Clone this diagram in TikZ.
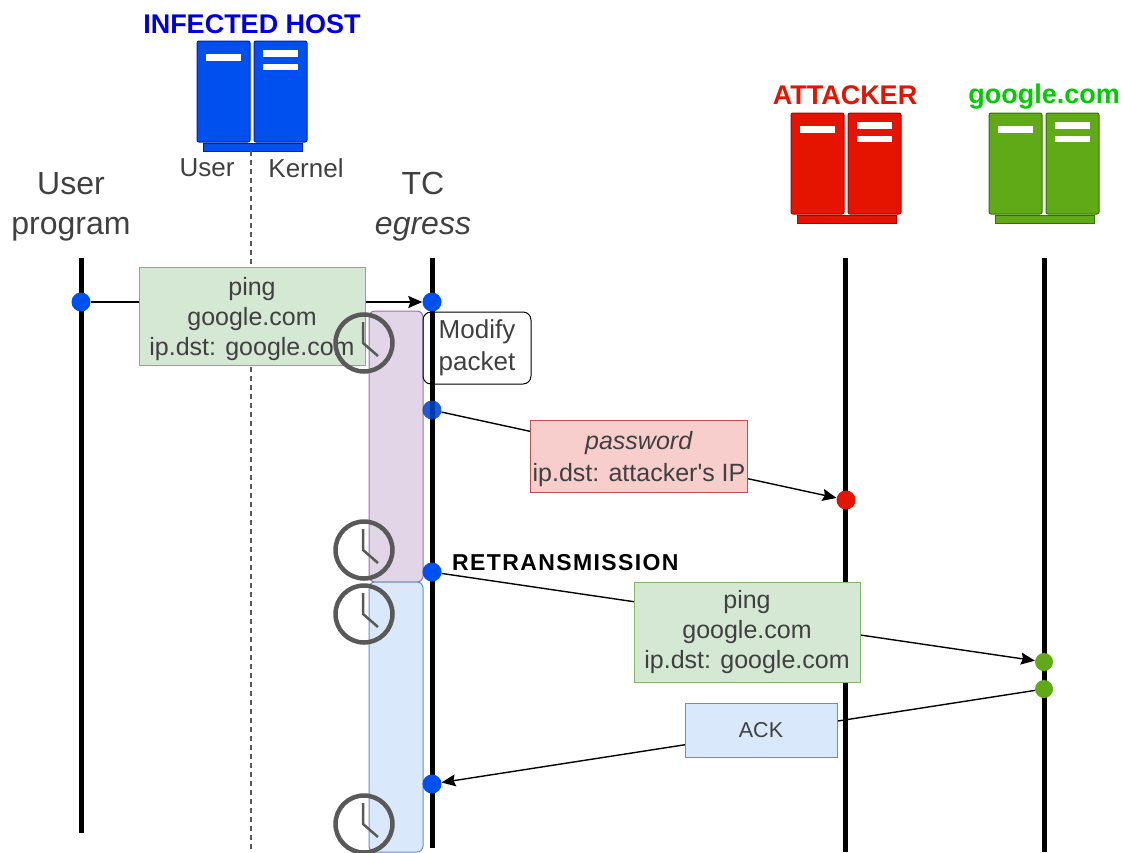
\documentclass[tikz,border=0pt]{standalone}
\usepackage{fontspec}
\setmainfont{Liberation Sans}
\usetikzlibrary{arrows.meta}

\definecolor{hostfill}{HTML}{0050EF}
\definecolor{hostline}{HTML}{001DBC}
\definecolor{attackfill}{HTML}{E51400}
\definecolor{attackline}{HTML}{B20000}
\definecolor{googlefill}{HTML}{60A917}
\definecolor{googleline}{HTML}{2D7600}
\definecolor{labelgray}{HTML}{404040}
\definecolor{clockgray}{HTML}{595959}
\definecolor{greenfill}{HTML}{D5E8D4}
\definecolor{greenline}{HTML}{82B366}
\definecolor{redfill}{HTML}{F8CECC}
\definecolor{redline}{HTML}{B85450}
\definecolor{bluefill}{HTML}{DAE8FC}
\definecolor{blueline}{HTML}{6C8EBF}
\definecolor{purplefill}{HTML}{E1D5E7}
\definecolor{purpleline}{HTML}{9673A6}

\tikzset{
    lifeline/.style={line width=5pt, black},
    splitline/.style={line width=1.5pt, clockgray, dash pattern=on 5pt off 4pt},
    dot/.style={circle, inner sep=0pt, minimum size=19pt, fill=#1},
    msg/.style={line width=1.4pt, black, -{Stealth[length=14pt, width=12pt, inset=2pt]}},
    msgbox/.style={draw=#1line, fill=#1fill, line width=1pt, align=center, inner sep=0pt, text=labelgray,
        font=\fontsize{25}{30}\selectfont},
    title/.style={align=center, text=labelgray, font=\fontsize{32}{40}\selectfont},
    small/.style={text=labelgray, font=\fontsize{26}{28}\selectfont},
    heading/.style={font=\bfseries\fontsize{#1}{28}\selectfont},
    window/.style={line width=1pt, rounded corners=6pt},
    pics/server/.style 2 args={code={
        \draw[fill=#1, draw=#2, line width=1pt, rounded corners=2pt] (-55, 0) rectangle (-2, 101);
        \draw[fill=#1, draw=#2, line width=1pt, rounded corners=2pt] (2, 0) rectangle (55, 101);
        \draw[fill=#1, draw=#2, line width=1pt] (-49, 102) rectangle (50, 110);
        \fill[white] (-46, 13) rectangle (-11, 20);
        \fill[white] (11, 9) rectangle (46, 16);
        \fill[white] (11, 23) rectangle (46, 29);
    }},
    pics/clock/.style={code={
        \draw[clockgray, line width=4.5pt] (0, 0) circle (28.5);
        \draw[clockgray, line width=2.5pt] (-1, -21) -- (-1, 0) -- (14, 13);
    }},
}

\begin{document}
\begin{tikzpicture}[x=1pt, y=-1pt]
\useasboundingbox (0, 0) rectangle (1123, 852);

\node[heading=27, text=blue!87!black] (hosttitle) at (252, 24) {INFECTED HOST};
\pic at (252, 41) {server={hostfill}{hostline}};
\node[small] (userlabel) at (207, 168) {User};
\node[small] (kernellabel) at (306, 168) {Kernel};

\node[heading=27, text=attackfill] (attackertitle) at (845, 95) {ATTACKER};
\pic at (846, 113) {server={attackfill}{attackline}};

\node[heading=27, text=green!80!black] (googletitle) at (1044, 97) {google.com};
\pic at (1044, 113) {server={googlefill}{googleline}};

\node[title] (usertitle) at (71, 207) {User\\program};
\node[title] (tctitle) at (423, 207) {TC\\\textit{egress}};

\coordinate (splittop) at (251, 151);
\coordinate (splitend) at (251, 852);
\draw[splitline] (splittop) -- (splitend);

\draw[window, fill=purplefill, draw=purpleline] (369, 311) rectangle (423, 582);
\draw[window, fill=bluefill, draw=blueline] (369, 582) rectangle (423, 852);

\coordinate (usertop) at (81, 258);
\coordinate (userend) at (81, 833);
\coordinate (tctop) at (432, 258);
\coordinate (tcend) at (432, 848);
\coordinate (attackertop) at (845, 258);
\coordinate (attackerend) at (845, 852);
\coordinate (googletop) at (1044, 258);
\coordinate (googleend) at (1044, 852);
\draw[lifeline] (usertop) -- (userend);
\draw[lifeline] (tctop) -- (tcend);
\draw[lifeline] (attackertop) -- (attackerend);
\draw[lifeline] (googletop) -- (googleend);

\node[dot=hostfill] (userdot) at (81, 302) {};
\node[dot=hostfill] (pingdot) at (432, 302) {};
\node[dot=hostfill!85!black, opacity=0.88] (modifydot) at (432, 410) {};
\node[dot=attackfill] (attackerdot) at (846, 500) {};
\node[dot=hostfill] (retransdot) at (432, 572) {};
\node[dot=googlefill, minimum size=18pt] (googledot) at (1044, 662) {};
\node[dot=googlefill, minimum size=18pt] (ackdot) at (1044, 689) {};
\node[dot=hostfill] (returndot) at (432, 784) {};

\draw[msg] (userdot) -- (pingdot);
\draw[msg] (modifydot) -- (attackerdot);
\draw[msg] (retransdot) -- (googledot);
\draw[msg] (ackdot) -- (returndot);

\node[msgbox=green, minimum width=226pt, minimum height=98pt] (pingbox) at (252, 316) {\rule{0pt}{24pt}ping\\google.com\\ip.dst: google.com};
\node[msgbox=red, minimum width=217pt, minimum height=72pt, font=\fontsize{25}{32}\selectfont] (passwordbox) at (639, 456) {\rule{0pt}{24pt}\textit{password}\\ip.dst: attacker\textquotesingle s IP};
\node[msgbox=green, minimum width=226pt, minimum height=100pt] (retransbox) at (747, 632) {ping\\google.com\\ip.dst: google.com};
\node[msgbox=blue, minimum width=152pt, minimum height=54pt, font=\fontsize{21.5}{24}\selectfont] (ackbox) at (761, 730) {ACK};

\node[draw=black, line width=1pt, rounded corners=8pt, minimum width=108pt, minimum height=72pt, align=center, inner sep=0pt, text=labelgray, font=\fontsize{26}{32}\selectfont] (modifybox) at (477, 348) {Modify\\packet};
\node[heading=23, anchor=west, inner sep=0pt] (retranslabel) at (452, 563) {\addfontfeature{LetterSpace=6}RETRANSMISSION};

\pic at (364, 343) {clock};
\pic at (364, 550) {clock};
\pic at (364, 614) {clock};
\pic at (364, 824) {clock};

\end{tikzpicture}
\end{document}
